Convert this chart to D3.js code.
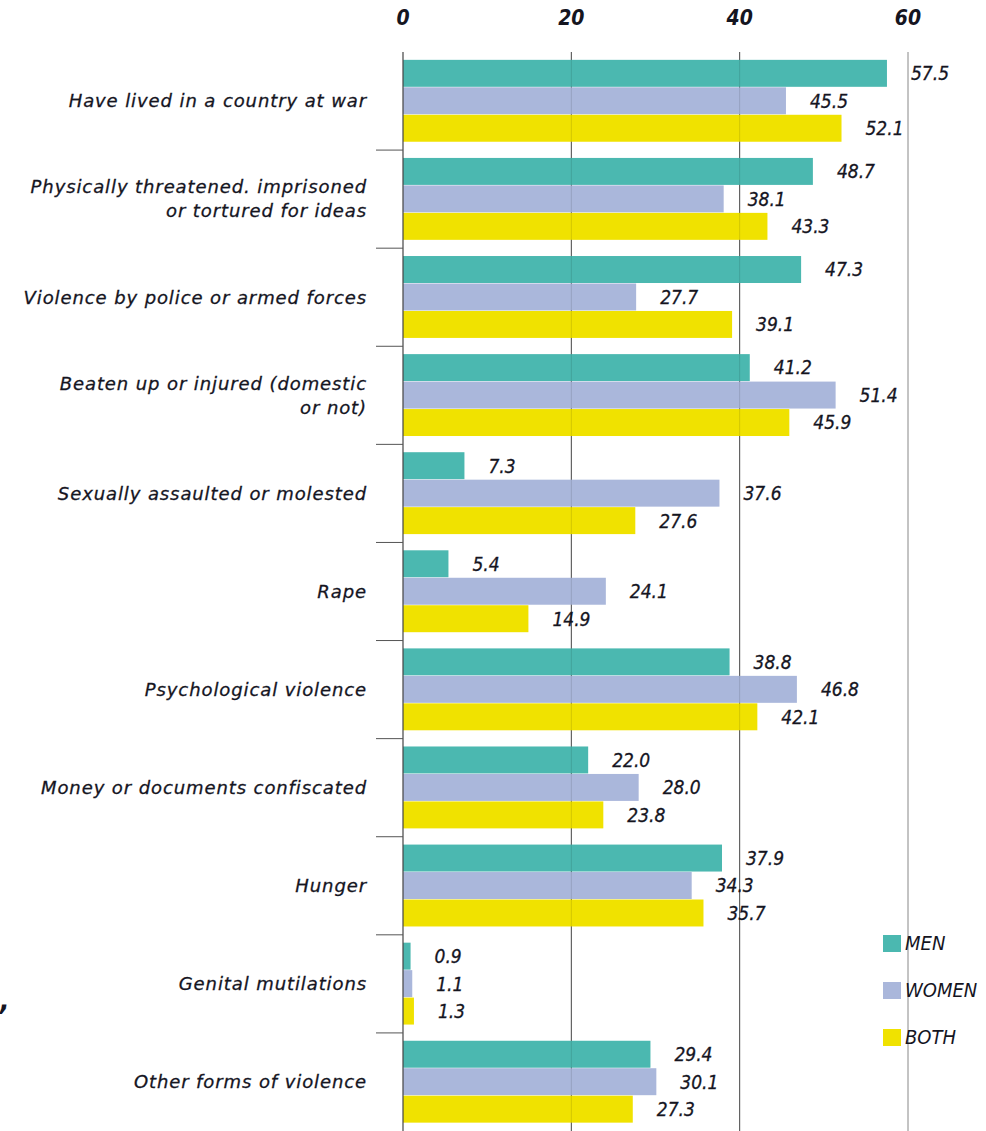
<!DOCTYPE html>
<html>
<head>
<meta charset="utf-8">
<script src="https://cdn.jsdelivr.net/npm/d3@7"></script>
<style>
  body { margin: 0; background: #fff; }
  svg text { font-family: "DejaVu Sans Condensed", "Liberation Sans Narrow", "DejaVu Sans", sans-serif; font-style: italic; fill: #15151f; }
  svg text.cat { font-family: "DejaVu Sans", sans-serif; letter-spacing: 0.9px; stroke: #15151f; stroke-width: 0.3px; }
  svg text.val { stroke: #15151f; stroke-width: 0.3px; }
</style>
</head>
<body>
<svg id="chart" width="986" height="1131"></svg>
<script>
const categories = [
  ["Have lived in a country at war"],
  ["Physically threatened. imprisoned", "or tortured for ideas"],
  ["Violence by police or armed forces"],
  ["Beaten up or injured (domestic", "or not)"],
  ["Sexually assaulted or molested"],
  ["Rape"],
  ["Psychological violence"],
  ["Money or documents confiscated"],
  ["Hunger"],
  ["Genital mutilations"],
  ["Other forms of violence"]
];
const men   = [57.5, 48.7, 47.3, 41.2, 7.3, 5.4, 38.8, 22.0, 37.9, 0.9, 29.4];
const women = [45.5, 38.1, 27.7, 51.4, 37.6, 24.1, 46.8, 28.0, 34.3, 1.1, 30.1];
const both  = [52.1, 43.3, 39.1, 45.9, 27.6, 14.9, 42.1, 23.8, 35.7, 1.3, 27.3];
const seriesNames = ["MEN", "WOMEN", "BOTH"];
const ticks = [0, 20, 40, 60];

const colors = { MEN: "#4bb8b0", WOMEN: "#aab7db", BOTH: "#f0e200" };
const series = { MEN: men, WOMEN: women, BOTH: both };

const svg = d3.select("#chart");
const plotTop = 52, plotBottom = 1131;

const x = d3.scaleLinear().domain([0, 60]).range([403, 908]);

const y0 = d3.scaleBand()
  .domain(d3.range(categories.length))
  .range([plotTop, plotBottom])
  .paddingInner(0.16)
  .paddingOuter(0.08);

const y1 = d3.scaleBand()
  .domain(seriesNames)
  .range([0, y0.bandwidth()]);

const fmt = d3.format(".1f");

// gridlines under bars
svg.append("g").selectAll("line")
  .data(ticks.slice(1))
  .join("line")
  .attr("x1", d => x(d)).attr("x2", d => x(d))
  .attr("y1", plotTop).attr("y2", plotBottom)
  .attr("stroke", d => d === 60 ? "#888" : "#555")
  .attr("stroke-width", 1);

// top axis labels
svg.append("g").selectAll("text")
  .data(ticks)
  .join("text")
  .attr("x", d => x(d))
  .attr("y", 25)
  .attr("text-anchor", "middle")
  .attr("font-size", 21)
  .attr("font-weight", "bold")
  .text(d => d);

// bars
const groups = svg.append("g").selectAll("g")
  .data(categories.map((c, i) => i))
  .join("g")
  .attr("transform", i => `translate(0,${y0(i)})`);

groups.selectAll("rect")
  .data(i => seriesNames.map(s => ({ s, v: series[s][i] })))
  .join("rect")
  .attr("x", x(0))
  .attr("y", d => y1(d.s))
  .attr("width", d => x(d.v) - x(0))
  .attr("height", y1.bandwidth() - 0.5)
  .attr("fill", d => colors[d.s]);

groups.selectAll("text.val")
  .data(i => seriesNames.map(s => ({ s, v: series[s][i] })))
  .join("text")
  .attr("class", "val")
  .attr("x", d => x(d.v) + 24)
  .attr("y", d => y1(d.s) + y1.bandwidth() / 2)
  .attr("dy", "0.35em")
  .attr("font-size", 19)
  .text(d => fmt(d.v));

// faint gridlines over the bars
svg.append("g").selectAll("line")
  .data(ticks.slice(1, 3))
  .join("line")
  .attr("x1", d => x(d)).attr("x2", d => x(d))
  .attr("y1", plotTop).attr("y2", plotBottom)
  .attr("stroke", "#000")
  .attr("stroke-opacity", 0.12);

// zero axis + category separators
svg.append("line")
  .attr("x1", x(0)).attr("x2", x(0))
  .attr("y1", plotTop).attr("y2", plotBottom)
  .attr("stroke", "#444").attr("stroke-width", 1.2);

svg.append("g").selectAll("line")
  .data(d3.range(1, categories.length))
  .join("line")
  .attr("x1", 376).attr("x2", x(0))
  .attr("y1", i => plotTop + i * y0.step())
  .attr("y2", i => plotTop + i * y0.step())
  .attr("stroke", "#555");

// category labels
const lab = svg.append("g").selectAll("text")
  .data(categories)
  .join("text")
  .attr("class", "cat")
  .attr("text-anchor", "end")
  .attr("font-size", 18)
  .attr("transform", (d, i) => `translate(367,${y0(i) + y0.bandwidth() / 2})`);

lab.selectAll("tspan")
  .data(d => d.map((t, j) => ({ t, j, n: d.length })))
  .join("tspan")
  .attr("x", 0)
  .attr("y", d => (d.j - (d.n - 1) / 2) * 24)
  .attr("dy", "0.35em")
  .text(d => d.t);

// legend
const leg = svg.append("g").selectAll("g")
  .data(seriesNames)
  .join("g")
  .attr("transform", (d, i) => `translate(883,${943 + i * 47})`);

leg.append("rect")
  .attr("x", 0).attr("y", -8)
  .attr("width", 18).attr("height", 17)
  .attr("fill", d => colors[d]);

leg.append("text")
  .attr("x", 22)
  .attr("dy", "0.35em")
  .attr("font-size", 20)
  .text(d => d);

// stray mark at the left edge of the source image
svg.append("text")
  .attr("x", 0).attr("y", 1010)
  .attr("font-size", 28)
  .attr("font-weight", "bold")
  .text(",");
</script>
</body>
</html>
